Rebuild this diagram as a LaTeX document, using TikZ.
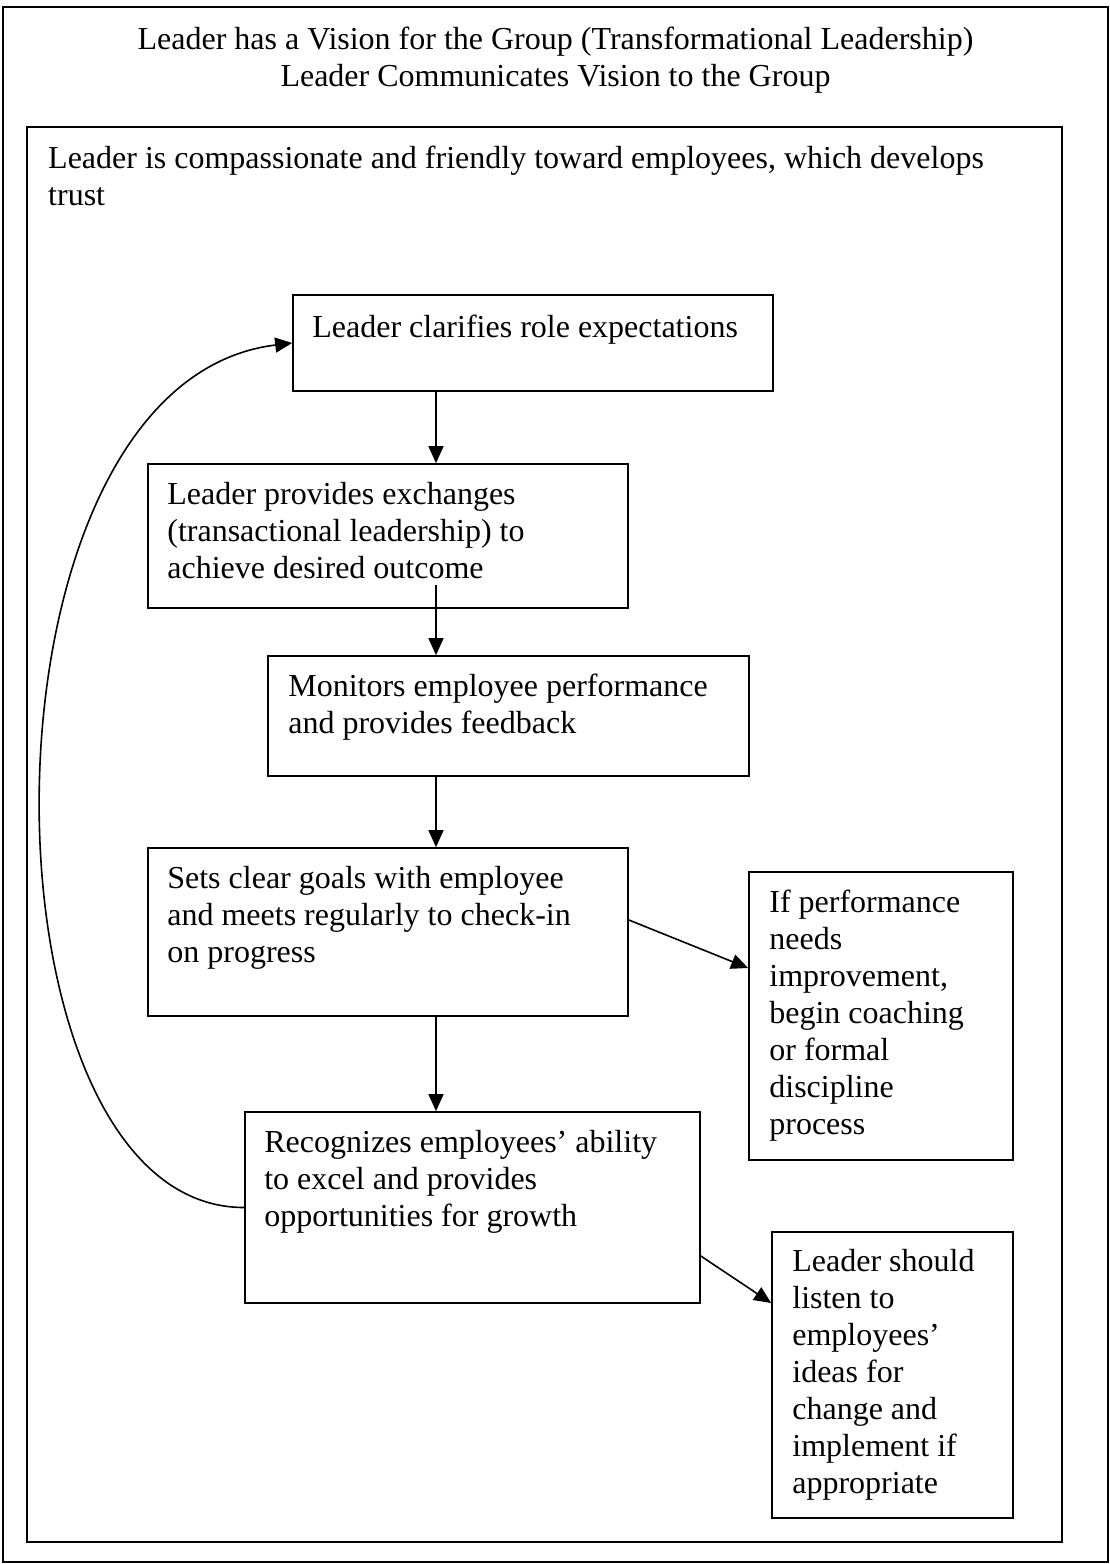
\documentclass[tikz,border=0pt]{standalone}
\usepackage{fontspec}
\setmainfont{Liberation Serif}
\usetikzlibrary{arrows.meta}
\begin{document}
\begin{tikzpicture}[x=1pt,y=-1pt,
  frame/.style={draw=black,line width=1.7pt},
  box/.style={draw=black,line width=1.7pt,inner sep=0pt,rectangle},
  txt/.style={inner sep=0pt,anchor=north west,align=left,font=\fontsize{32}{37}\selectfont},
  arr/.style={line width=1.6pt,-{Triangle[length=17pt,width=15pt]}}]
\useasboundingbox (0,0) rectangle (1110,1564);
% frames
\draw[frame] (3,7) rectangle (1108,1562);
\draw[frame] (27,127) rectangle (1062,1542);
% title and outer text
\node[txt,anchor=north,align=center] (title) at (555.5,23) {\strut Leader has a Vision for the Group (Transformational Leadership)\\Leader Communicates Vision to the Group};
\node[txt] (trust) at (48,142) {\strut Leader is compassionate and friendly toward employees, which develops\\trust};
% boxes
\node[box,minimum width=480pt,minimum height=96pt] (b1) at (533,343) {};
\node[box,minimum width=480pt,minimum height=144pt] (b2) at (388,536) {};
\node[box,minimum width=481pt,minimum height=120pt] (b3) at (508.5,716) {};
\node[box,minimum width=480pt,minimum height=168pt] (b4) at (388,932) {};
\node[box,minimum width=264pt,minimum height=288pt] (b5) at (881,1016) {};
\node[box,minimum width=455pt,minimum height=191pt] (b6) at (472.5,1207.5) {};
\node[box,minimum width=241pt,minimum height=286pt] (b7) at (892.5,1375) {};
% box texts
\node[txt] (t1) at ([shift={(20,17)}]b1.north west) {\strut Leader clarifies role expectations};
\node[txt] (t2) at ([shift={(20,15)}]b2.north west) {\strut Leader provides exchanges\\(transactional leadership) to\\achieve desired outcome};
\node[txt] (t3) at ([shift={(21,15)}]b3.north west) {\strut Monitors employee performance\\and provides feedback};
\node[txt] (t4) at ([shift={(20,15)}]b4.north west) {\strut Sets clear goals with employee\\and meets regularly to check-in\\on progress};
\node[txt] (t5) at ([shift={(21,15)}]b5.north west) {\strut If performance\\needs\\improvement,\\begin coaching\\or formal\\discipline\\process};
\node[txt] (t6) at ([shift={(20,15)}]b6.north west) {\strut Recognizes employees’ ability\\to excel and provides\\opportunities for growth};
\node[txt] (t7) at ([shift={(21,14)}]b7.north west) {\strut Leader should\\listen to\\employees’\\ideas for\\change and\\implement if\\appropriate};
% connectors
\coordinate (X) at (436,0);
\coordinate (s23) at ([yshift=24pt]b2.south -| X);
\draw[arr] (b1.south -| X) -- (b2.north -| X);
\draw[arr] (s23) -- (b3.north -| X);
\draw[arr] (b3.south -| X) -- (b4.north -| X);
\draw[arr] (b4.south -| X) -- (b6.north -| X);
\draw[arr] ([yshift=12pt]b4.east) -- ([yshift=48pt]b5.west);
\draw[arr] ([yshift=-48.5pt]b6.east) -- ([yshift=72pt]b7.west);
\draw[arr] (b6.west) .. controls +(-275,0) and +(-330,40) .. (b1.west);
\end{tikzpicture}
\end{document}
